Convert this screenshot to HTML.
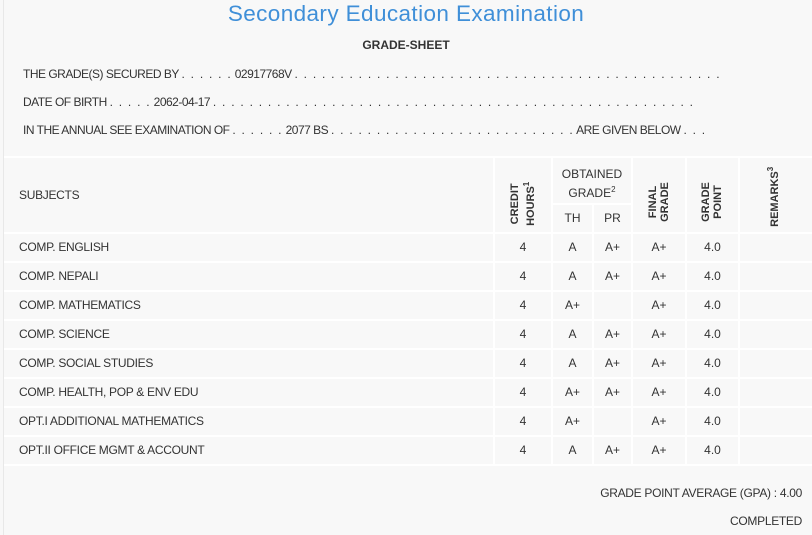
<!DOCTYPE html>
<html><head><style>
*{margin:0;padding:0;box-sizing:border-box}
body{width:812px;height:535px;background:#f8f8f8;font-family:"Liberation Sans",sans-serif;color:#333;position:relative;overflow:hidden;font-size:12px}
.a{position:absolute;white-space:nowrap}
.t{font-size:22.5px;color:#3f8fd8;left:0;width:812px;text-align:center;top:1px;letter-spacing:0.4px}
.h{font-weight:bold;left:0;width:812px;text-align:center;top:38px;font-size:12px}
.l{left:23px;font-size:12px;letter-spacing:-0.5px}
.d{letter-spacing:1.25px}
.vl{position:absolute;background:#fff;width:2px}
.hl{position:absolute;background:#fff;height:2px;left:4px;width:808px}
.c{position:absolute;text-align:center;font-size:12px}
.rot{position:absolute;transform:rotate(-90deg);font-weight:bold;font-size:11px;text-align:center;line-height:12px;white-space:nowrap}
</style></head><body>
<div style="position:absolute;left:3px;top:0;width:1px;height:535px;background:#e8e8e8"></div>
<div class="a t">Secondary Education Examination</div>
<div class="a h">GRADE-SHEET</div>
<div class="a l" style="top:67px">THE GRADE(S) SECURED BY <span class="d">. . . . . .</span> 02917768V <span class="d">. . . . . . . . . . . . . . . . . . . . . . . . . . . . . . . . . . . . . . . . . . . . . . .</span></div>
<div class="a l" style="top:95px">DATE OF BIRTH <span class="d">. . . . .</span> 2062-04-17 <span class="d">. . . . . . . . . . . . . . . . . . . . . . . . . . . . . . . . . . . . . . . . . . . . . . . . . . . . .</span></div>
<div class="a l" style="top:123px">IN THE ANNUAL SEE EXAMINATION OF <span class="d">. . . . . .</span> 2077 BS <span class="d">. . . . . . . . . . . . . . . . . . . . . . . . . . .</span> ARE GIVEN BELOW <span class="d">. . .</span></div>

<div class="hl" style="top:156px"></div>
<div class="hl" style="top:232px"></div>
<div class="hl" style="top:261px"></div>
<div class="hl" style="top:290px"></div>
<div class="hl" style="top:319px"></div>
<div class="hl" style="top:348px"></div>
<div class="hl" style="top:377px"></div>
<div class="hl" style="top:406px"></div>
<div class="hl" style="top:435px"></div>
<div class="hl" style="top:464px"></div>
<div style="position:absolute;background:#fff;height:2px;left:552px;width:80px;top:203px"></div>
<div class="vl" style="left:493px;top:156px;height:310px"></div>
<div class="vl" style="left:551px;top:156px;height:310px"></div>
<div class="vl" style="left:592px;top:204px;height:262px"></div>
<div class="vl" style="left:631px;top:156px;height:310px"></div>
<div class="vl" style="left:685px;top:156px;height:310px"></div>
<div class="vl" style="left:738px;top:156px;height:310px"></div>

<div class="a" style="left:19px;top:188px;letter-spacing:-0.3px">SUBJECTS</div>
<div class="rot" style="left:488px;top:190px;width:70px">CREDIT<br>HOURS<sup style="font-size:8px">1</sup></div>
<div class="c" style="left:552px;width:80px;top:166px;line-height:16px">OBTAINED<br>GRADE<sup style="font-size:8px">2</sup></div>
<div class="c" style="left:552px;width:41px;top:211px">TH</div>
<div class="c" style="left:593px;width:39px;top:211px">PR</div>
<div class="rot" style="left:624px;top:190px;width:70px">FINAL<br>GRADE</div>
<div class="rot" style="left:677px;top:190px;width:70px">GRADE<br>POINT</div>
<div class="rot" style="left:733px;top:189px;width:80px">REMARKS<sup style="font-size:8px">3</sup></div>

<div id="rows"></div>
<script>
var d=[["COMP. ENGLISH","A","A+"],["COMP. NEPALI","A","A+"],["COMP. MATHEMATICS","A+",""],["COMP. SCIENCE","A","A+"],["COMP. SOCIAL STUDIES","A","A+"],["COMP. HEALTH, POP & ENV EDU","A+","A+"],["OPT.I ADDITIONAL MATHEMATICS","A+",""],["OPT.II OFFICE MGMT & ACCOUNT","A","A+"]];
var h="";d.forEach(function(r,i){var y=240+i*29;
h+='<div class="a" style="left:19px;top:'+y+'px;letter-spacing:-0.3px">'+r[0].replace("&","&amp;")+'</div>';
h+='<div class="c" style="left:494px;width:58px;top:'+y+'px">4</div>';
h+='<div class="c" style="left:552px;width:41px;top:'+y+'px">'+r[1]+'</div>';
h+='<div class="c" style="left:593px;width:39px;top:'+y+'px">'+r[2]+'</div>';
h+='<div class="c" style="left:632px;width:54px;top:'+y+'px">A+</div>';
h+='<div class="c" style="left:686px;width:53px;top:'+y+'px">4.0</div>';});
document.getElementById("rows").innerHTML=h;
</script>
<div class="a" style="right:10px;top:486px;letter-spacing:-0.3px">GRADE POINT AVERAGE (GPA) : 4.00</div>
<div class="a" style="right:10px;top:514px;letter-spacing:-0.3px">COMPLETED</div>
</body></html>
